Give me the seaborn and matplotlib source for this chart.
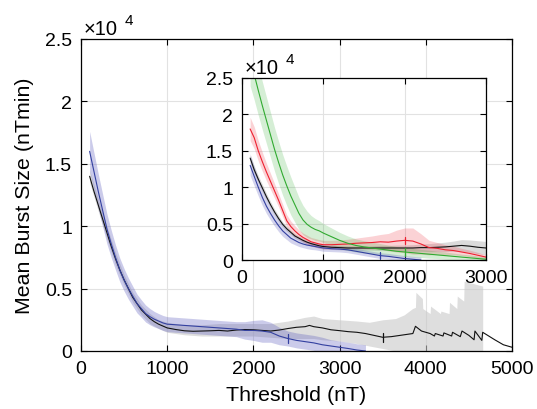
import numpy as np
import seaborn as sns
import matplotlib.pyplot as plt
from matplotlib.ticker import FuncFormatter

# values are in units of 1e4 nTmin
# ---------------- main axes ----------------
thr_main_k = [100, 150, 200, 250, 300, 350, 400, 450, 500, 550, 600, 650, 700, 750, 800, 850, 900, 950, 1000,
              1100, 1200, 1300, 1400, 1500, 1600, 1700, 1800, 1900, 2000, 2100, 2200, 2300, 2400, 2500, 2600,
              2650, 2700, 2800, 2900, 3000,
              3100, 3200, 3300, 3400, 3500, 3600, 3700, 3800, 3850, 3880, 3950, 4000, 4050, 4100, 4110, 4200,
              4210, 4300, 4310, 4400, 4420, 4500, 4560, 4570, 4650, 4660, 4800, 4900, 5000]
val_main_k = [1.40, 1.28, 1.17, 1.06, 0.95, 0.84, 0.74, 0.65, 0.57, 0.50, 0.43, 0.38, 0.33, 0.295, 0.26, 0.235,
              0.215, 0.20, 0.185,
              0.172, 0.162, 0.158, 0.16, 0.162, 0.165, 0.16, 0.168, 0.172, 0.17, 0.165, 0.16, 0.168, 0.18, 0.19,
              0.195, 0.205, 0.195, 0.185, 0.17, 0.163,
              0.155, 0.15, 0.14, 0.125, 0.11, 0.115, 0.125, 0.135, 0.14, 0.198, 0.16, 0.15, 0.14, 0.12, 0.14,
              0.12, 0.145, 0.12, 0.15, 0.115, 0.16, 0.125, 0.09, 0.16, 0.085, 0.15, 0.09, 0.05, 0.03]

band_main_k_thr = [100, 200, 300, 400, 500, 600, 700, 800, 900, 1000, 1200, 1400, 1600, 1800, 2000, 2200, 2400,
                   2600, 2700, 2800, 3000, 3200, 3345, 3500, 3650, 3750, 3846, 3880, 3885, 3960, 3965, 4050,
                   4055, 4170, 4175, 4270, 4275, 4360, 4365, 4440, 4445, 4660]
band_main_k_hi = [1.45, 1.22, 1.00, 0.79, 0.61, 0.47, 0.37, 0.30, 0.25, 0.23, 0.21, 0.21, 0.22, 0.22, 0.22, 0.22,
                  0.24, 0.27, 0.28, 0.26, 0.25, 0.24, 0.23, 0.25, 0.26, 0.29, 0.34, 0.35, 0.47, 0.42, 0.34,
                  0.30, 0.36, 0.30, 0.32, 0.30, 0.39, 0.34, 0.44, 0.40, 0.56, 0.52]
band_main_k_lo = [1.35, 1.12, 0.90, 0.69, 0.53, 0.39, 0.29, 0.22, 0.18, 0.15, 0.13, 0.12, 0.12, 0.12, 0.12, 0.11,
                  0.10, 0.10, 0.10, 0.09, 0.08, 0.06, 0.04, 0.02, 0.0, 0.0, 0.0, 0.0, 0.0, 0.0, 0.0,
                  0.0, 0.0, 0.0, 0.0, 0.0, 0.0, 0.0, 0.0, 0.0, 0.0, 0.0]

thr_main_b = [100, 150, 200, 250, 300, 350, 400, 450, 500, 550, 600, 650, 700, 750, 800, 850, 900, 950, 1000,
              1100, 1200, 1300, 1400, 1500, 1600, 1700, 1800, 1900, 2000, 2100, 2200, 2300, 2400, 2500, 2600,
              2700, 2800, 2900, 3000, 3100, 3200, 3300]
val_main_b = [1.60, 1.44, 1.28, 1.13, 0.98, 0.86, 0.75, 0.65, 0.57, 0.50, 0.44, 0.38, 0.34, 0.30, 0.275, 0.255,
              0.24, 0.225, 0.215,
              0.21, 0.205, 0.20, 0.195, 0.19, 0.185, 0.18, 0.175, 0.165, 0.165, 0.16, 0.15, 0.12, 0.10, 0.085,
              0.075, 0.065, 0.05, 0.04, 0.03, 0.02, 0.008, 0.0]
spr_main_b = [0.16, 0.15, 0.14, 0.13, 0.12, 0.11, 0.10, 0.095, 0.09, 0.085, 0.08, 0.075, 0.07, 0.068, 0.065,
              0.062, 0.06, 0.06, 0.06,
              0.06, 0.06, 0.06, 0.06, 0.06, 0.06, 0.06, 0.06, 0.07, 0.08, 0.09, 0.08, 0.07, 0.06, 0.06, 0.06,
              0.06, 0.06, 0.05, 0.05, 0.05, 0.05, 0.05]

# tick marks drawn on the curves
mark_main_b = 2400
mark_main_k = 3500

# ---------------- inset ----------------
thr_in = [100, 150, 200, 250, 300, 350, 400, 450, 500, 550, 600, 650, 700, 750, 800, 850, 900, 950, 1000,
          1100, 1200, 1300, 1400, 1500, 1600, 1700, 1800, 1900, 2000, 2100, 2200, 2300, 2400, 2500, 2600,
          2700, 2800, 2900, 3000]
val_in_k = [1.40, 1.24, 1.11, 0.99, 0.87, 0.76, 0.66, 0.57, 0.49, 0.43, 0.38, 0.33, 0.30, 0.27, 0.245, 0.225,
            0.21, 0.195, 0.185,
            0.175, 0.17, 0.165, 0.165, 0.165, 0.165, 0.165, 0.165, 0.165, 0.165, 0.165, 0.17, 0.17, 0.175,
            0.18, 0.19, 0.20, 0.19, 0.175, 0.165]
spr_in_k = [0.06, 0.055, 0.05, 0.05, 0.045, 0.045, 0.04, 0.04, 0.035, 0.035, 0.03, 0.03, 0.03, 0.03, 0.03,
            0.03, 0.03, 0.03, 0.03,
            0.03, 0.03, 0.03, 0.03, 0.03, 0.03, 0.035, 0.035, 0.04, 0.04, 0.045, 0.05, 0.055, 0.06, 0.065,
            0.07, 0.08, 0.085, 0.09, 0.09]
val_in_r = [1.80, 1.68, 1.50, 1.35, 1.21, 1.08, 0.95, 0.82, 0.68, 0.54, 0.46, 0.40, 0.35, 0.31, 0.28, 0.25,
            0.235, 0.22, 0.21,
            0.21, 0.215, 0.22, 0.23, 0.235, 0.24, 0.25, 0.245, 0.26, 0.27, 0.26, 0.22, 0.17, 0.16, 0.14, 0.13,
            0.11, 0.09, 0.065, 0.04]
spr_in_r = [0.16, 0.15, 0.14, 0.13, 0.12, 0.11, 0.10, 0.09, 0.085, 0.08, 0.075, 0.07, 0.065, 0.06, 0.06, 0.06,
            0.06, 0.06, 0.06,
            0.06, 0.06, 0.065, 0.07, 0.08, 0.09, 0.10, 0.12, 0.15, 0.17, 0.18, 0.14, 0.10, 0.08, 0.07, 0.06,
            0.05, 0.045, 0.04, 0.03]
val_in_g = [2.75, 2.55, 2.33, 2.12, 1.92, 1.72, 1.52, 1.34, 1.17, 1.02, 0.88, 0.76, 0.64, 0.55, 0.49, 0.45,
            0.42, 0.40, 0.37,
            0.32, 0.27, 0.23, 0.20, 0.18, 0.165, 0.15, 0.135, 0.12, 0.11, 0.10, 0.09, 0.08, 0.07, 0.06, 0.05,
            0.04, 0.03, 0.02, 0.01]
spr_in_g = [0.36, 0.35, 0.34, 0.33, 0.32, 0.31, 0.30, 0.29, 0.28, 0.27, 0.26, 0.24, 0.22, 0.20, 0.18, 0.16,
            0.15, 0.14, 0.13,
            0.12, 0.11, 0.10, 0.09, 0.085, 0.08, 0.075, 0.07, 0.065, 0.06, 0.06, 0.055, 0.055, 0.05, 0.05,
            0.045, 0.04, 0.04, 0.035, 0.03]
thr_in_b = [100, 150, 200, 250, 300, 350, 400, 450, 500, 550, 600, 650, 700, 750, 800, 850, 900, 950, 1000,
            1100, 1200, 1300, 1400, 1500, 1600, 1700, 1800, 1900, 2000, 2100, 2200]
val_in_b = [1.30, 1.15, 1.00, 0.86, 0.74, 0.64, 0.55, 0.47, 0.40, 0.35, 0.30, 0.27, 0.24, 0.22, 0.205, 0.195,
            0.185, 0.175, 0.165,
            0.155, 0.15, 0.14, 0.12, 0.10, 0.08, 0.06, 0.05, 0.035, 0.02, 0.01, 0.0]
spr_in_b = [0.14, 0.13, 0.12, 0.11, 0.10, 0.09, 0.085, 0.08, 0.075, 0.07, 0.065, 0.06, 0.055, 0.05, 0.05, 0.05,
            0.045, 0.045, 0.045,
            0.04, 0.04, 0.04, 0.04, 0.04, 0.04, 0.04, 0.04, 0.04, 0.04, 0.04, 0.04]
mark_in_b = 1700
mark_in_r = 2000
mark_in_g = 2000

BLUE = "#3340a0"
RED = "#ee2030"
GREEN = "#30aa30"
BLACK = "#111111"

sns.set_style("ticks", {"xtick.direction": "in", "ytick.direction": "in"})
plt.rcParams["font.family"] = ["Liberation Sans", "DejaVu Sans"]
plt.rcParams["text.color"] = "black"
plt.rcParams["axes.labelcolor"] = "black"

fig = plt.figure(figsize=(5.37, 4.10), dpi=100)
ax = fig.add_axes([81 / 537, 58 / 410, 431 / 537, 312 / 410])
ins = fig.add_axes([242 / 537, 149 / 410, 244 / 537, 182 / 410])


def style_axes(a, xmax, xticks):
    a.set_xlim(0, xmax)
    a.set_ylim(0, 2.5)
    a.set_xticks(xticks)
    a.set_yticks([0, 0.5, 1, 1.5, 2, 2.5])
    a.yaxis.set_major_formatter(FuncFormatter(lambda v, p: "%g" % v))
    a.grid(True, color="#e2e2e2", lw=0.8)
    a.set_axisbelow(True)
    for s in a.spines.values():
        s.set_visible(True)
        s.set_color("black")
        s.set_linewidth(0.9)
    a.tick_params(which="both", direction="in", top=True, right=True, length=4, width=0.8,
                  labelsize=14, pad=6.5, colors="black")
    # MATLAB style exponent label
    a.annotate("×10", xy=(0, 1), xycoords="axes fraction", xytext=(2, 0.5), textcoords="offset points",
               ha="left", va="bottom", fontsize=14.5)
    a.annotate("4", xy=(0, 1), xycoords="axes fraction", xytext=(31.5, 8.5), textcoords="offset points",
               ha="left", va="bottom", fontsize=11)


def mark(a, xs, ys, x0, color, h):
    y0 = ys[list(xs).index(x0)]
    a.plot([x0, x0], [y0 - h, y0 + h], color=color, lw=0.9, zorder=5)


# main
style_axes(ax, 5000, [0, 1000, 2000, 3000, 4000, 5000])
ax.fill_between(band_main_k_thr, band_main_k_lo, band_main_k_hi, color="#c8c8c8", alpha=0.6, lw=0)
bm = np.array(val_main_b)
sm = np.array(spr_main_b)
ax.fill_between(thr_main_b, bm - sm, bm + sm, color="#5555bb", alpha=0.3, lw=0)
sns.lineplot(x=thr_main_k, y=val_main_k, ax=ax, color=BLACK, lw=0.8, estimator=None)
sns.lineplot(x=thr_main_b, y=val_main_b, ax=ax, color=BLUE, lw=0.8, estimator=None)
mark(ax, thr_main_b, val_main_b, mark_main_b, BLUE, 0.035)
mark(ax, thr_main_k, val_main_k, mark_main_k, BLACK, 0.035)
ax.set_xlabel("Threshold (nT)", fontsize=15.4, labelpad=6)
ax.set_ylabel("Mean Burst Size (nTmin)", fontsize=15.4, labelpad=8)

# inset
ins.set_facecolor("white")
style_axes(ins, 3000, [0, 1000, 2000, 3000])
series = [
    (thr_in, val_in_k, spr_in_k, "#999999", BLACK, 0.35),
    (thr_in, val_in_r, spr_in_r, RED, RED, 0.2),
    (thr_in, val_in_g, spr_in_g, GREEN, GREEN, 0.2),
    (thr_in_b, val_in_b, spr_in_b, "#5555bb", BLUE, 0.25),
]
for xs, vs, ss, bc, lc, al in series:
    v = np.array(vs)
    s = np.array(ss)
    ins.fill_between(xs, v - s, v + s, color=bc, alpha=al, lw=0)
for xs, vs, ss, bc, lc, al in series:
    sns.lineplot(x=xs, y=vs, ax=ins, color=lc, lw=0.8, estimator=None)
mark(ins, thr_in_b, val_in_b, mark_in_b, BLUE, 0.05)
mark(ins, thr_in, val_in_r, mark_in_r, RED, 0.05)
mark(ins, thr_in, val_in_g, mark_in_g, GREEN, 0.05)

fig.savefig("out.png", dpi=100)
